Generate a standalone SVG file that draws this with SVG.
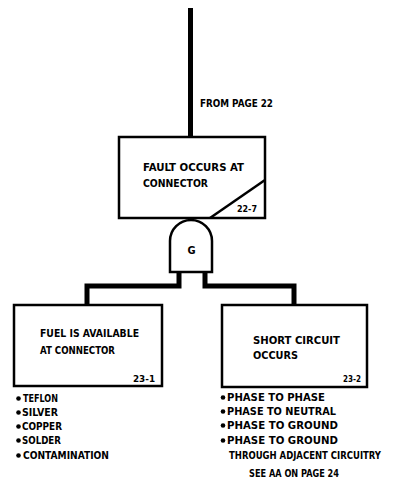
<svg xmlns="http://www.w3.org/2000/svg" width="396" height="490" viewBox="0 0 396 490">
<style>
.box{fill:#fff;stroke:#000;stroke-width:2.5}
.con{fill:none;stroke:#000;stroke-width:5;stroke-linejoin:miter}
text{font-family:"Liberation Sans Narrow","DejaVu Sans Condensed","Liberation Sans",sans-serif;font-weight:bold;font-size:11px;fill:#000}
.sm{font-size:9px}
</style>
<rect width="396" height="490" fill="#fff"/>
<g id="connectors">
<path class="con" d="M190.5,8 V137"/>
<path class="con" d="M179,272 V286 H87 V305"/>
<path class="con" d="M205,272 V286 H294 V305"/>
</g>
<text x="200" y="107" textLength="73" lengthAdjust="spacingAndGlyphs">FROM PAGE 22</text>
<g id="fault">
<rect class="box" x="119" y="137" width="146" height="81"/>
<path d="M265,180 L210,218" fill="none" stroke="#000" stroke-width="2.5"/>
<text x="143" y="171" textLength="101" lengthAdjust="spacingAndGlyphs">FAULT OCCURS AT</text>
<text x="143" y="187" textLength="65" lengthAdjust="spacingAndGlyphs">CONNECTOR</text>
<text class="sm" x="237" y="212" textLength="20" lengthAdjust="spacingAndGlyphs">22-7</text>
</g>
<g id="gate">
<path d="M170,272 V241 A21,21 0 0 1 212,241 V272 Z" fill="#fff" stroke="#000" stroke-width="2.5"/>
<text x="191.5" y="254" text-anchor="middle">G</text>
</g>
<g id="fuel">
<rect class="box" x="14" y="305" width="148" height="81"/>
<text x="40" y="337" textLength="99" lengthAdjust="spacingAndGlyphs">FUEL IS AVAILABLE</text>
<text x="40" y="354" textLength="75" lengthAdjust="spacingAndGlyphs">AT CONNECTOR</text>
<text class="sm" x="133" y="382" textLength="22" lengthAdjust="spacingAndGlyphs">23-1</text>
</g>
<g id="fuel-list">
<circle cx="18.5" cy="398.5" r="2.3"/>
<text x="23" y="402" textLength="35" lengthAdjust="spacingAndGlyphs">TEFLON</text>
<circle cx="18.5" cy="412.5" r="2.3"/>
<text x="22" y="416" textLength="36" lengthAdjust="spacingAndGlyphs">SILVER</text>
<circle cx="18.5" cy="426.5" r="2.3"/>
<text x="22" y="430" textLength="40" lengthAdjust="spacingAndGlyphs">COPPER</text>
<circle cx="18.5" cy="440.5" r="2.3"/>
<text x="22" y="444" textLength="39" lengthAdjust="spacingAndGlyphs">SOLDER</text>
<circle cx="18.5" cy="455.5" r="2.3"/>
<text x="23" y="459" textLength="86" lengthAdjust="spacingAndGlyphs">CONTAMINATION</text>
</g>
<g id="short">
<rect class="box" x="222" y="305" width="145" height="82"/>
<text x="253" y="344" textLength="87" lengthAdjust="spacingAndGlyphs">SHORT CIRCUIT</text>
<text x="253" y="359" textLength="45" lengthAdjust="spacingAndGlyphs">OCCURS</text>
<text class="sm" x="343" y="382" textLength="18" lengthAdjust="spacingAndGlyphs">23-2</text>
</g>
<g id="short-list">
<circle cx="223" cy="397.5" r="2.3"/>
<text x="227" y="401" textLength="98" lengthAdjust="spacingAndGlyphs">PHASE TO PHASE</text>
<circle cx="223" cy="411.5" r="2.3"/>
<text x="227" y="415" textLength="109" lengthAdjust="spacingAndGlyphs">PHASE TO NEUTRAL</text>
<circle cx="223" cy="425.5" r="2.3"/>
<text x="227" y="429" textLength="111" lengthAdjust="spacingAndGlyphs">PHASE TO GROUND</text>
<circle cx="223" cy="440.5" r="2.3"/>
<text x="227" y="444" textLength="111" lengthAdjust="spacingAndGlyphs">PHASE TO GROUND</text>
<text x="229" y="459" font-size="9" textLength="152" lengthAdjust="spacingAndGlyphs">THROUGH ADJACENT CIRCUITRY</text>
<text x="249" y="477" textLength="90" lengthAdjust="spacingAndGlyphs">SEE AA ON PAGE 24</text>
</g>
</svg>
